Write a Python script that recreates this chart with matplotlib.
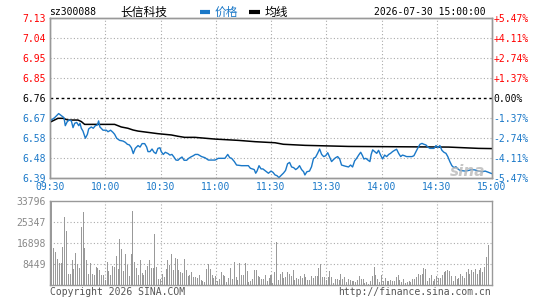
import matplotlib
matplotlib.use('Agg')
import matplotlib.pyplot as plt
from matplotlib.lines import Line2D
import numpy as np

plt.rcParams['font.family'] = ['DejaVu Sans Mono', 'Noto Sans CJK SC']

# ---------------- data ----------------
stock_code = "sz300088"
stock_name = "长信科技"
legend_names = ["价格", "均线"]
timestamp = "2026-07-30 15:00:00"
prev_close = 6.76

time_labels = ["09:30", "10:00", "10:30", "11:00", "11:30", "13:30", "14:00", "14:30", "15:00"]
price_tick_labels = ["7.13", "7.04", "6.95", "6.85", "6.76", "6.67", "6.58", "6.48", "6.39"]
pct_tick_labels = ["+5.47%", "+4.11%", "+2.74%", "+1.37%", "0.00%", "-1.37%", "-2.74%", "-4.11%", "-5.47%"]
vol_tick_labels = ["33796", "25347", "16898", "8449"]
vol_max = 33796

# minutes since 09:30 (afternoon continues after 120)
price_t = [0, 2.5, 4.7, 6.2, 7.6, 8.3, 9.4, 10.5, 11.6, 12.5, 13.4, 14.5, 15.6, 16.3, 17.0, 17.9,
           19.2, 20.3, 21.0, 22.4, 23.5, 24.6, 25.7, 26.4, 27.1, 28.8, 30.6, 31.5, 32.9, 34.2, 35.1,
           36.2, 37.8, 39.6, 40.9, 42.0, 43.1, 44.2, 45.2, 46.3, 47.8, 48.9, 50.0, 51.4, 52.5, 53.2,
           54.3, 55.4, 56.5, 57.5, 58.6, 59.7, 60.4, 61.5, 62.6, 64.1, 65.1, 66.2, 67.3, 68.4, 69.5,
           70.6, 71.7, 72.8, 74.2, 75.3, 76.4, 77.8, 78.9, 80.3,
           82.3, 84.1, 86.0, 89.6, 91.4, 95.0, 96.5, 97.6, 98.6, 100.1, 101.3, 104.0, 107.7, 108.8,
           109.8, 110.9, 111.7, 112.4, 113.5, 114.6, 115.6, 117.1, 118.6, 120.0, 121.1, 122.2, 123.2,
           124.3, 125.4, 126.8, 127.9, 129.0, 130.1, 131.2, 132.3, 133.4, 134.4, 135.5, 136.6, 137.7,
           138.4, 139.5, 140.9, 142.0, 143.1, 144.2, 145.3, 146.4, 147.5, 148.6, 149.7, 150.8, 151.8,
           152.9, 154.0, 155.1, 156.2, 157.3, 158.3, 160.2,
           162.1, 163.2, 164.3, 165.4, 166.5, 167.6, 168.7, 169.7, 170.4, 171.5, 172.6, 173.7, 174.4,
           175.2, 176.3, 177.4, 178.4, 179.5, 180.6, 181.7, 182.8, 183.9, 184.9, 186.0, 187.1, 188.2,
           189.3, 190.4, 191.4, 192.5, 193.6, 196.5, 197.6, 198.7, 199.8, 200.9, 202.0, 203.0, 204.1,
           205.2, 206.3, 208.5, 209.6, 210.6, 211.7, 212.8, 213.9, 215.0, 216.0, 217.1, 218.2, 219.3,
           220.4, 221.5, 222.6, 225.5, 227.3, 229.1, 230.9, 232.7, 234.5, 236.3, 238.1, 240.0]
price_v = [6.654, 6.669, 6.688, 6.678, 6.669, 6.632, 6.651, 6.658, 6.654, 6.623, 6.643, 6.647, 6.632,
           6.643, 6.620, 6.607, 6.574, 6.592, 6.617, 6.626, 6.620, 6.632, 6.635, 6.654, 6.626, 6.611,
           6.611, 6.604, 6.611, 6.601, 6.592, 6.574, 6.564, 6.561, 6.555, 6.546, 6.543, 6.530, 6.503,
           6.527, 6.540, 6.533, 6.549, 6.549, 6.533, 6.512, 6.512, 6.524, 6.509, 6.503, 6.527, 6.530,
           6.512, 6.499, 6.509, 6.503, 6.496, 6.499, 6.487, 6.473, 6.472, 6.481, 6.487, 6.472, 6.472,
           6.481, 6.487, 6.493, 6.499, 6.499,
           6.489, 6.484, 6.473, 6.473, 6.481, 6.481, 6.499, 6.484, 6.481, 6.466, 6.450, 6.447, 6.447,
           6.435, 6.432, 6.429, 6.412, 6.422, 6.447, 6.432, 6.432, 6.422, 6.412, 6.422, 6.416, 6.404,
           6.401, 6.392, 6.401, 6.413, 6.425, 6.456, 6.462, 6.441, 6.438, 6.429, 6.435, 6.447, 6.429,
           6.419, 6.404, 6.419, 6.422, 6.442, 6.481, 6.486, 6.504, 6.524, 6.499, 6.489, 6.493, 6.507,
           6.487, 6.466, 6.476, 6.484, 6.489, 6.478, 6.450, 6.445,
           6.441, 6.450, 6.441, 6.469, 6.481, 6.496, 6.509, 6.493, 6.478, 6.481, 6.473, 6.466, 6.499,
           6.520, 6.512, 6.504, 6.518, 6.496, 6.478, 6.496, 6.489, 6.499, 6.504, 6.512, 6.518, 6.523,
           6.504, 6.489, 6.496, 6.493, 6.489, 6.489, 6.493, 6.512, 6.530, 6.546, 6.550, 6.546, 6.543,
           6.533, 6.527, 6.527, 6.540, 6.530, 6.540, 6.518, 6.509, 6.504, 6.489, 6.466, 6.447, 6.438,
           6.442, 6.432, 6.425, 6.422, 6.425, 6.429, 6.427, 6.422, 6.419, 6.422, 6.416, 6.410]

avg_t = [0, 4.3, 7.1, 9.8, 15.2, 17.0, 18.8, 35.1, 36.9, 38.7, 42.3, 45.1, 47.8, 53.2, 58.6, 65.9,
         69.5, 73.1, 78.7, 89.6, 102.3, 111.3, 122.2, 126.7, 138.5, 162.1, 216.4, 232.7, 240.0]
avg_v = [6.648, 6.666, 6.666, 6.658, 6.658, 6.651, 6.638, 6.638, 6.632, 6.626, 6.620, 6.612, 6.607,
         6.601, 6.595, 6.589, 6.583, 6.578, 6.578, 6.570, 6.564, 6.558, 6.553, 6.546, 6.541, 6.536,
         6.533, 6.527, 6.526]

vol_morning = [5230, 33796, 14885, 13276, 10460, 8851, 8851, 15287, 27356, 21724,
               4425, 4425, 10057, 6437, 12874, 8448, 6839, 23333, 29368, 14885,
               10057, 4425, 8851, 4425, 4023, 7241, 6839, 6034, 4023, 4023,
               2011, 9253, 5632, 4023, 7644, 7241, 11667, 6437, 18506, 14483,
               5632, 12471, 8046, 3621, 12471, 29770, 9253, 6839, 4023, 10057,
               4828, 4023, 6034, 7644, 10057, 6839, 6839, 20517, 7241, 2414,
               2414, 4425, 3218, 6437, 10057, 8180, 12471, 6034, 10862, 10460,
               6034, 5230, 4828, 10460, 6034, 3621, 4023, 5230, 3218, 3218,
               2816]
vol_midday = [4023, 2011, 1609, 1207, 6437, 8448, 6437, 4023, 2816, 3621, 1609,
              2414, 5230, 4023, 3621, 1207, 2816, 6839, 2414, 9253, 3218, 2011,
              8851, 4023, 4023, 8851, 5632, 1207, 1609, 2414, 6034, 6034, 3621,
              3218, 2414, 2414, 4023, 1609, 2816, 4023, 805, 5230, 17299,
              2011, 4425, 5230, 2816, 3218, 5230, 4425, 3621, 6034, 2011,
              2816, 2414, 3621, 2816, 4425, 3218, 2011, 2011, 3621, 2816, 3621, 3621,
              6839, 8448, 3218, 3218, 2011, 3218, 5632, 3218, 805, 2414, 2414, 2011, 4425, 2414]
vol_afternoon = [3218, 1207, 2414, 2011, 1609, 1609, 1207, 2011, 3621, 2414,
                 2414, 805, 1207, 402, 1609, 3621, 7241, 4023, 2414, 1207,
                 4023, 1609, 2816, 1609, 1609, 2011, 1609, 1609, 3218, 4023,
                 2011, 1207, 2414, 805, 1207, 1609, 1207, 2414, 2414, 3218,
                 4425, 4023, 4425, 6839, 6437, 1609, 2816, 4023, 1609, 2414,
                 3621, 2816, 2816, 4023, 5230, 5632, 6034, 5632, 3621, 1609,
                 3621, 2414, 2816, 4425, 3621, 2816, 5230, 6437, 4425, 6034,
                 5230, 6437, 4425, 6034, 6839, 5230, 7241, 11265, 16093]
volumes = vol_morning + vol_midday + vol_afternoon

# ---------------- style ----------------
RED = '#ff0000'
BLUE = '#1a78c8'
GRAY = '#999999'
FS = 7

W, H = 545, 300
fig = plt.figure(figsize=(W / 100, H / 100), dpi=100)
fig.patch.set_facecolor('white')

def fx(px):
    return px / W

def fy(py):
    return 1 - py / H

ax = fig.add_axes([fx(50), fy(178), fx(492) - fx(50), fy(18) - fy(178)])
axv = fig.add_axes([fx(50), fy(285), fx(492) - fx(50), fy(201) - fy(285)])

price_ticks = np.linspace(7.13, 6.39, len(price_tick_labels))
time_ticks = np.arange(len(time_labels)) * 30

# price panel
ax.set_xlim(0, 240)
ax.set_ylim(6.39, 7.13)
for y in price_ticks[1:-1]:
    if abs(y - prev_close) < 1e-6:
        ax.axhline(y, color='black', lw=1.0, ls=(0, (2, 2)), zorder=1)
    else:
        ax.axhline(y, color='#aaaaaa', lw=0.8, ls=(0, (1, 2)), zorder=1)
for t in time_ticks[1:-1]:
    ax.axvline(t, color='#aaaaaa', lw=0.8, ls=(0, (1, 2)), zorder=1)

ax.plot(avg_t, avg_v, color='black', lw=1.1, zorder=3)
ax.plot(price_t, price_v, color=BLUE, lw=1.0, zorder=4)

ax.set_yticks(price_ticks)
ax.set_yticklabels(price_tick_labels, fontsize=FS)
for lbl, val in zip(ax.get_yticklabels(), price_ticks):
    if val > prev_close + 1e-6:
        lbl.set_color(RED)
    elif abs(val - prev_close) < 1e-6:
        lbl.set_color('black')
    else:
        lbl.set_color(BLUE)
ax.set_xticks(time_ticks)
ax.set_xticklabels(time_labels, fontsize=FS, color=BLUE)
ax.tick_params(axis='both', length=0)
ax.tick_params(axis='y', pad=3)
ax.tick_params(axis='x', pad=3)

ax2 = ax.twinx()
ax2.set_ylim(6.39, 7.13)
ax2.set_yticks(price_ticks)
ax2.set_yticklabels(pct_tick_labels, fontsize=FS)
for lbl, txt in zip(ax2.get_yticklabels(), pct_tick_labels):
    if txt.startswith('+'):
        lbl.set_color(RED)
    elif txt.startswith('-'):
        lbl.set_color(BLUE)
    else:
        lbl.set_color('black')
ax2.tick_params(axis='y', length=0, pad=1)

for a in (ax, ax2, axv):
    for s in a.spines.values():
        s.set_color(GRAY)
        s.set_linewidth(1.0)

# volume panel
minutes = np.arange(len(volumes))
axv.set_xlim(0, 240)
axv.set_ylim(0, vol_max)
vol_ticks = np.linspace(vol_max, 0, 5)
for y in vol_ticks[1:-1]:
    axv.axhline(y, color='#aaaaaa', lw=0.8, ls=(0, (1, 2)), zorder=1)
for t in time_ticks[1:-1]:
    axv.axvline(t, color='#aaaaaa', lw=0.8, ls=(0, (1, 2)), zorder=1)
axv.bar(minutes, volumes, width=0.55, color=GRAY, linewidth=0, zorder=2)
axv.set_yticks(vol_ticks[:-1])
axv.set_yticklabels(vol_tick_labels, fontsize=FS, color='#888888')
axv.set_xticks([])
axv.tick_params(axis='y', length=0, pad=3)

# header
fig.text(fx(49), fy(12), stock_code, fontsize=FS, color='black', va='center', ha='left')
fig.text(fx(120), fy(12), stock_name, fontsize=8.5, color='black', va='center', ha='left',
         family=['Noto Sans CJK SC', 'DejaVu Sans'])
fig.add_artist(Line2D([fx(200), fx(210)], [fy(12), fy(12)], color=BLUE, lw=3, solid_capstyle='butt'))
fig.text(fx(215), fy(12), legend_names[0], fontsize=8.5, color=BLUE, va='center', ha='left',
         family=['Noto Sans CJK SC', 'DejaVu Sans'])
fig.add_artist(Line2D([fx(249), fx(260)], [fy(12), fy(12)], color='black', lw=3, solid_capstyle='butt'))
fig.text(fx(265), fy(12), legend_names[1], fontsize=8.5, color='black', va='center', ha='left',
         family=['Noto Sans CJK SC', 'DejaVu Sans'])
fig.text(fx(486), fy(12), timestamp, fontsize=FS, color='black', va='center', ha='right')

# footer
fig.text(fx(50), fy(292), "Copyright 2026 SINA.COM", fontsize=FS, color='#555555', va='center', ha='left')
fig.text(fx(491), fy(292), "http://finance.sina.com.cn", fontsize=FS, color='#555555', va='center', ha='right')

# watermark
fig.text(fx(468), fy(172), "sina", fontsize=11, color='#b8b8b8', alpha=0.8, style='italic',
         weight='bold', va='center', ha='center', family=['DejaVu Sans'], zorder=10)

fig.savefig('out.png', dpi=100)
